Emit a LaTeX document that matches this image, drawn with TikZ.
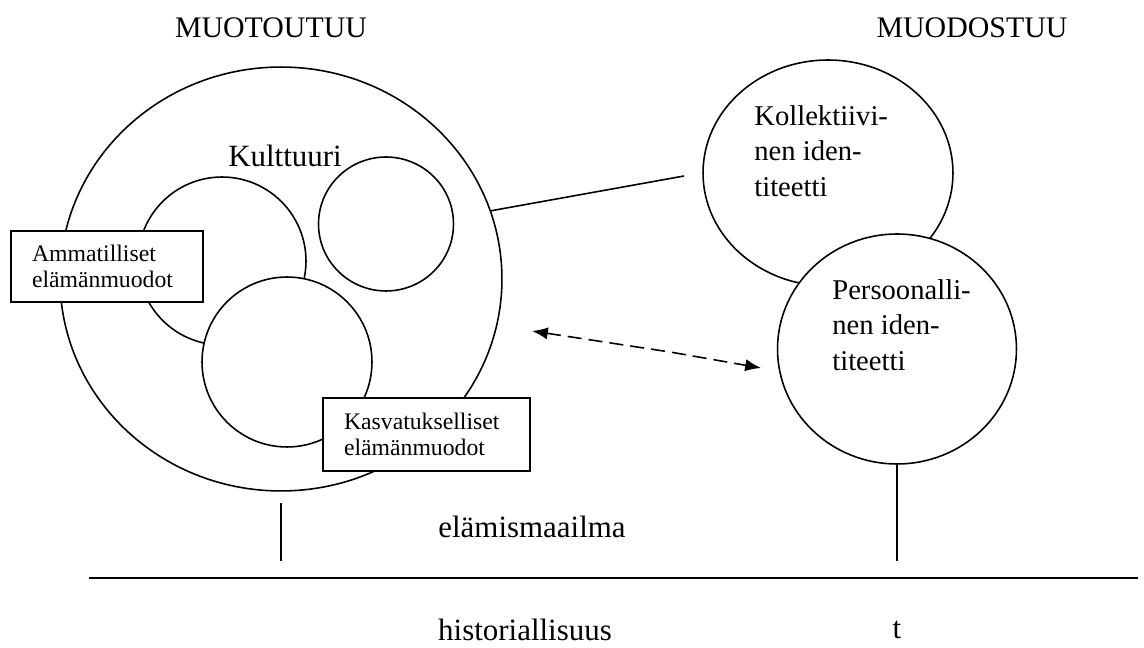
\documentclass[tikz,border=0pt]{standalone}
\usepackage{fontspec}
\setmainfont{Liberation Serif}
\usetikzlibrary{shapes.geometric,arrows.meta}

\begin{document}
\begin{tikzpicture}[x=0.02cm,y=-0.02cm,
    ring/.style={ellipse,draw,fill=white,line width=0.9pt,inner sep=0pt},
    formbox/.style={rectangle,draw,fill=white,line width=0.9pt,align=left,inner xsep=0.42cm,font=\fontsize{13.5}{14.8}\selectfont},
    bigtext/.style={font=\fontsize{17}{20}\selectfont},
    idtext/.style={anchor=north west,align=left,inner sep=0pt,font=\fontsize{16.3}{20.3}\selectfont}]

\useasboundingbox (0,0) rectangle (1144,648);

\node[bigtext] (muotoutuu) at (271,28) {MUOTOUTUU};
\node[bigtext] (muodostuu) at (972,28) {MUODOSTUU};

% kulttuuri
\node[ring,minimum width=8.84cm,minimum height=8.48cm] (big) at (281,279) {};
\node[bigtext,font=\fontsize{17.6}{20}\selectfont] (kulttuuri) at (285,156) {Kulttuuri};
\node[ring,minimum width=2.7cm,minimum height=2.68cm] (c3) at (386,224) {};
\node[ring,minimum width=3.36cm,minimum height=3.36cm] (c1) at (222,261) {};
\node[ring,minimum width=3.4cm,minimum height=3.4cm] (c2) at (287,362) {};

\node[formbox,text width=3.0cm,minimum height=1.42cm] (ammat) at (107,266.5) {Ammatilliset\\el\"am\"anmuodot};
\node[formbox,text width=3.3cm,minimum height=1.46cm] (kasvat) at (426.5,434.5) {Kasvatukselliset\\el\"am\"anmuodot};

% identiteetit
\node[ring,minimum width=5.0cm,minimum height=4.52cm] (koll) at (828,173) {};
\node[ring,minimum width=4.78cm,minimum height=4.6cm] (pers) at (897,349) {};
\node[idtext] (kolltext) at (754,105) {Kollektiivi-\\nen iden-\\titeetti};
\node[idtext] (perstext) at (832,279) {Persoonalli-\\nen iden-\\titeetti};

\coordinate (linkend) at (684,176);
\draw[line width=0.9pt] (big.18) -- (linkend);

\coordinate (arrowl) at (532,331);
\coordinate (kink) at (670,352);
\coordinate (arrowr) at (761,368);
\draw[line width=0.9pt,dash pattern=on 8pt off 4pt,{Latex[length=9pt,width=7pt]}-{Latex[length=9pt,width=7pt]}] (arrowl) -- (kink) -- (arrowr);

% elamismaailma
\coordinate (tick1a) at (281,503);
\coordinate (tick1b) at (281,561);
\coordinate (tick2b) at (897,561);
\draw[line width=0.9pt] (tick1a) -- (tick1b);
\draw[line width=0.9pt] (pers.south) -- (tick2b);
\node[bigtext,font=\fontsize{17.6}{20}\selectfont] (elamis) at (532,527) {el\"amismaailma};

\coordinate (axisl) at (89,578);
\coordinate (axisr) at (1138,578);
\draw[line width=1.1pt] (axisl) -- (axisr);
\node[bigtext,font=\fontsize{17.6}{20}\selectfont] (hist) at (525,630) {historiallisuus};
\node[bigtext,font=\fontsize{17.6}{20}\selectfont] (aika) at (897,630) {t};
\end{tikzpicture}
\end{document}
